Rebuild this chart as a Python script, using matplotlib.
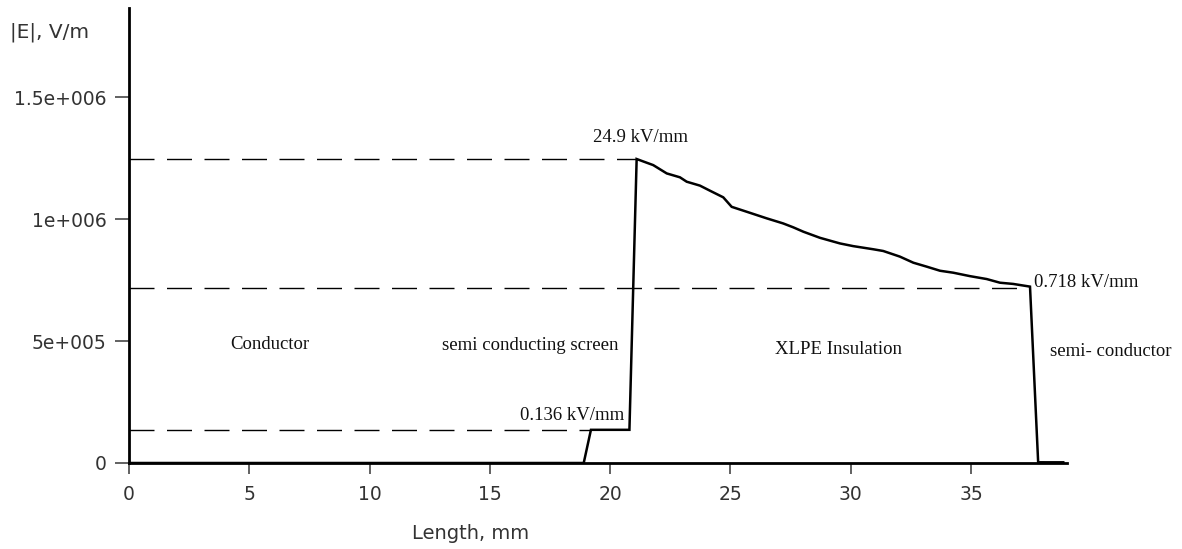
import matplotlib
matplotlib.use("Agg")
import matplotlib.pyplot as plt

# field profile |E| along the cable radius (mm, V/m)
length_mm = [0.0, 18.9, 19.2, 20.8, 21.1, 21.79, 22.35, 22.90, 23.18, 23.73, 24.15,
             24.70, 25.05, 25.67, 26.50, 27.19, 27.61, 28.03, 28.72, 29.55, 30.10,
             30.94, 31.35, 32.04, 32.60, 33.15, 33.71, 34.26, 34.95, 35.65, 36.20,
             36.75, 37.45, 37.79, 38.0]
field = [0.0, 0.0, 1.36e5, 1.36e5, 1.246e6, 1.221e6, 1.187e6, 1.171e6, 1.153e6,
         1.137e6, 1.116e6, 1.089e6, 1.050e6, 1.030e6, 1.003e6, 0.982e6, 0.966e6,
         0.948e6, 0.923e6, 0.900e6, 0.889e6, 0.876e6, 0.869e6, 0.846e6, 0.821e6,
         0.805e6, 0.788e6, 0.780e6, 0.766e6, 0.754e6, 0.739e6, 0.734e6, 0.723e6,
         0.0, 0.0]
# thick tail on the outer semi-conductor
tail_x = [37.8, 38.85]
tail_y = [0.0, 0.0]

# reference levels (value, x end)
ref_levels = [1.246e6, 7.17e5, 1.36e5]
ref_ends = [21.1, 37.45, 19.2]

labels = [
    ("24.9 kV/mm", 21.24, 1.336e6),
    ("0.136 kV/mm", 18.43, 1.93e5),
    ("0.718 kV/mm", 39.8, 7.38e5),
    ("Conductor", 5.86, 4.85e5),
    ("semi conducting screen", 16.67, 4.8e5),
    ("XLPE Insulation", 29.47, 4.67e5),
    ("semi- conductor", 40.8, 4.55e5),
]

fig = plt.figure(figsize=(11.82, 5.49), dpi=100)
ax = fig.add_axes([129 / 1182, 86 / 549, 938.3 / 1182, 455 / 549])

for lvl, xe in zip(ref_levels, ref_ends):
    ax.plot([0, xe], [lvl, lvl], color="black", lw=1.0, dashes=(18, 9))

ax.plot(length_mm, field, color="black", lw=1.8, solid_joinstyle="miter")
ax.plot(tail_x, tail_y, color="black", lw=3.5, solid_capstyle="butt")

for txt, x, y in labels:
    ax.text(x, y, txt, ha="center", va="center", fontsize=13.5,
            family="Liberation Serif", color="#111111", clip_on=False)

ax.set_xlim(0, 39)
ax.set_ylim(0, 1.865e6)
ax.set_xticks([0, 5, 10, 15, 20, 25, 30, 35])
ax.set_yticks([0, 5e5, 1e6, 1.5e6])
ax.set_yticklabels(["0", "5e+005", "1e+006", "1.5e+006"])

for s in ["top", "right"]:
    ax.spines[s].set_visible(False)
for s in ["left", "bottom"]:
    ax.spines[s].set_linewidth(2)

ax.tick_params(axis="both", direction="out", color="#555555", width=1.3,
               labelsize=13.5, labelcolor="#333333")
ax.tick_params(axis="y", length=10, pad=6)
ax.tick_params(axis="x", length=8, pad=8)

ax.set_xlabel("Length, mm", fontsize=14, color="#333333")
ax.xaxis.set_label_coords(0.364, -0.133)
fig.text(10 / 1182, 1 - 32 / 549, "|E|, V/m", fontsize=14.5, color="#333333",
         ha="left", va="center")

fig.savefig("out.png", dpi=100)
